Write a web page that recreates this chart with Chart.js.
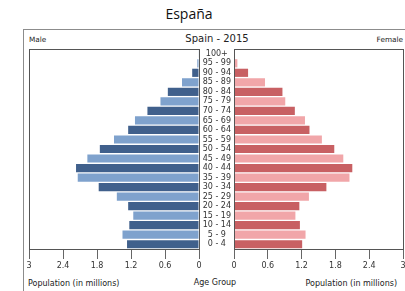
<!DOCTYPE html>
<html>
<head>
<meta charset="utf-8">
<script src="https://cdn.jsdelivr.net/npm/chart.js@4/dist/chart.umd.min.js"></script>
<style>
  html, body { margin: 0; padding: 0; background: #fff; }
  body { width: 405px; height: 291px; position: relative; overflow: hidden; font-family: "DejaVu Sans", sans-serif; color: #222; }
  .t { position: absolute; white-space: nowrap; line-height: 1; }
  #frame { position: absolute; left: 23px; top: 29px; width: 420px; height: 300px; border: 1px solid #8c8c8c; box-sizing: border-box; }
  #leftBox { position: absolute; left: 0; top: 0; width: 210px; height: 291px; }
  #rightBox { position: absolute; left: 195px; top: 0; width: 225px; height: 291px; }
</style>
</head>
<body>
<div id="frame"></div>
<div class="t" style="left:89px;top:7px;width:200px;text-align:center;font-family:'Open Sans',sans-serif;font-size:14px;color:#111;">España</div>
<div class="t" style="left:29px;top:36px;font-size:7.3px;">Male</div>
<div class="t" style="left:117px;top:34px;width:200px;text-align:center;font-size:10px;">Spain - 2015</div>
<div class="t" style="right:2px;top:36px;font-size:7.3px;">Female</div>
<div class="t" style="left:115px;top:279px;width:200px;text-align:center;font-size:8px;">Age Group</div>
<div class="t" style="left:28px;top:280px;font-size:8px;">Population (in millions)</div>
<div class="t" style="right:8px;top:280px;font-size:8px;">Population (in millions)</div>
<div id="leftBox"><canvas id="male"></canvas></div>
<div id="rightBox"><canvas id="female"></canvas></div>
<script>
// grupy wiekowe, od góry do dołu
const ageGroups = ['100+', '95 - 99', '90 - 94', '85 - 89', '80 - 84', '75 - 79', '70 - 74',
  '65 - 69', '60 - 64', '55 - 59', '50 - 54', '45 - 49', '40 - 44', '35 - 39',
  '30 - 34', '25 - 29', '20 - 24', '15 - 19', '10 - 14', '5 - 9', '0 - 4'];

// populacja w milionach
const maleValues = [0.01, 0.03, 0.12, 0.30, 0.55, 0.68, 0.91, 1.13, 1.25, 1.50, 1.75,
  1.97, 2.17, 2.14, 1.77, 1.45, 1.25, 1.16, 1.23, 1.35, 1.27];
const femaleValues = [0.01, 0.06, 0.25, 0.55, 0.86, 0.91, 1.08, 1.26, 1.34, 1.56, 1.78,
  1.94, 2.10, 2.05, 1.64, 1.33, 1.16, 1.09, 1.17, 1.27, 1.21];

const xTicks = [0, 0.6, 1.2, 1.8, 2.4, 3];

const tickFont = { family: 'DejaVu Sans', size: 8 };

// ramka wokół obszaru wykresu
const boxPlugin = {
  id: 'box',
  afterDraw(chart) {
    const { ctx, chartArea: a } = chart;
    ctx.save();
    ctx.strokeStyle = '#555';
    ctx.lineWidth = 1;
    ctx.strokeRect(a.left + 0.5, a.top + 0.5, a.right - a.left, a.bottom - a.top);
    ctx.restore();
  }
};

function xScale(reverse) {
  return {
    type: 'linear',
    min: 0,
    max: 3,
    reverse: reverse,
    afterBuildTicks: s => { s.ticks = xTicks.map(v => ({ value: v })); },
    afterFit: s => { s.height = 42; },
    border: { display: false },
    grid: { drawOnChartArea: false, drawTicks: true, tickLength: 10, color: '#666' },
    ticks: {
      font: tickFont, color: '#333', padding: 2, maxRotation: 0, autoSkip: false,
      callback: v => String(Number(v.toFixed(1)))
    }
  };
}

function makeChart(id, values, dark, light, isLeft) {
  return new Chart(document.getElementById(id), {
    type: 'bar',
    data: {
      labels: ageGroups,
      datasets: [{
        data: values,
        backgroundColor: c => (c.dataIndex % 2 ? light : dark),
        barPercentage: 0.86,
        categoryPercentage: 1
      }]
    },
    options: {
      indexAxis: 'y',
      responsive: true,
      maintainAspectRatio: false,
      animation: false,
      events: [],
      layout: { padding: isLeft ? { left: 29, top: 49, right: 11, bottom: 0 } : { left: 0, top: 49, right: 17, bottom: 0 } },
      plugins: { legend: { display: false }, tooltip: { enabled: false } },
      scales: {
        x: xScale(isLeft),
        y: isLeft ? { display: false } : {
          afterFit: s => { s.width = 39; },
          border: { display: false },
          grid: { display: false, drawTicks: false, tickLength: 0 },
          ticks: { font: tickFont, color: '#333', padding: 3, crossAlign: 'center', autoSkip: false }
        }
      }
    },
    plugins: [boxPlugin]
  });
}

makeChart('male', maleValues, '#40608c', '#7fa2cd', true);
makeChart('female', femaleValues, '#c86063', '#f1a6a9', false);
</script>
</body>
</html>
